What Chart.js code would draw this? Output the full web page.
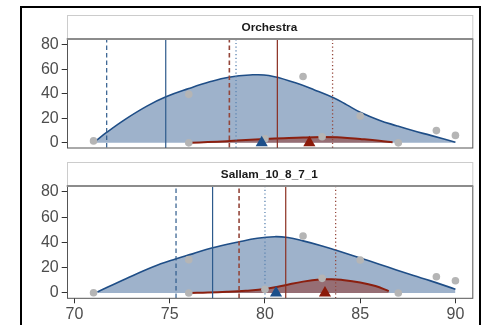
<!DOCTYPE html>
<html>
<head>
<meta charset="utf-8">
<script src="https://cdn.jsdelivr.net/npm/chart.js@4.4.0/dist/chart.umd.min.js"></script>
<style>
    html, body { margin: 0; padding: 0; background: #fff; }
    body { width: 482px; height: 325px; position: relative; overflow: hidden; }
    #frame { position: absolute; left: 20px; top: 6px; width: 457px; height: 400px; border: 2px solid #000; }
    canvas { position: absolute; left: 0; }
    #panelTop { top: 0; }
    #panelBottom { top: 155px; }
</style>
</head>
<body>
<div id="frame"></div>
<canvas id="panelTop" width="482" height="155"></canvas>
<canvas id="panelBottom" width="482" height="170"></canvas>
<script>
const panelNames = ["Orchestra", "Sallam_10_8_7_1"];
const xTicks = [70, 75, 80, 85, 90];
const yTicks = [0, 20, 40, 60, 80];

// observed counts (grey dots)
const obsX = [71, 76, 76, 80, 82, 83, 85, 87, 89, 90];
const orchObsY = [1.6, 39.6, 0, 3.4, 54.1, 5, 21.9, 0, 10, 6.1];
const sallObsY = [0.2, 26.4, 0, 2.9, 45.1, 11.6, 26.1, 0, 12.9, 9.7];

// blue density
const orchBlueX = [71.15, 71.7, 72.7, 73.8, 74.8, 76, 77.1, 78.1, 79.2, 80.2, 81.6, 82.6, 83.6, 84.3, 85, 86, 86.9, 87.8, 88.7, 90];
const orchBlueY = [2, 8.7, 19.6, 30, 37.6, 44.3, 49.8, 53.6, 55.4, 55, 49, 43.2, 36.8, 31, 25, 18.5, 14, 9.8, 6.1, 0.5];
const sallBlueX = [71.2, 72.7, 74.1, 75.3, 76.2, 77.2, 78.6, 79.6, 80.5, 81.2, 82, 83, 83.7, 85, 86, 86.9, 87.8, 88.7, 90];
const sallBlueY = [0.8, 11.3, 20.6, 26.9, 31, 35.6, 40.4, 43.4, 44.6, 43.9, 41.3, 37.3, 34, 27.7, 22.8, 18.2, 13.8, 9.6, 3];

// red density
const orchRedX = [76.15, 77, 78, 79, 80, 81, 82, 83, 84, 85, 86, 86.7];
const orchRedY = [0, 0.6, 1.4, 2.3, 3.1, 3.8, 4.4, 4.7, 4.4, 3.2, 1.8, 0.4];
const sallRedX = [76.1, 77, 78, 79, 80, 81, 82, 83, 83.5, 84, 85, 85.8, 86.5];
const sallRedY = [0, 0.3, 0.9, 1.8, 3.2, 6, 9, 10.8, 10.9, 10.4, 8.3, 5.5, 1.5];

// reference lines: dashed, solid, dotted
const orchBlueLines = [71.69, 74.79, 78.48];
const orchRedLines = [78.13, 80.65, 83.55];
const sallBlueLines = [75.33, 77.25, 80.0];
const sallRedLines = [78.64, 81.09, 83.71];

// triangles: blue, red
const orchMarks = [79.83, 82.33];
const sallMarks = [80.58, 83.15];

const FONT = "'Liberation Sans', Arial, sans-serif";
const BLUE = '#1f4e87';
const RED = '#8b1f0f';
const lineDashes = [[4.5, 3], [], [1.2, 2.5]];

function pts(xs, ys) {
    return xs.map((x, i) => ({ x: x, y: ys[i] }));
}

function vLine(x, color, width, dash) {
    return {
        data: [{ x: x, y: -10 }, { x: x, y: 100 }],
        borderColor: color,
        borderWidth: width,
        borderDash: dash,
        pointRadius: 0,
        fill: false,
        order: 2,
    };
}

const stripPlugin = {
    id: 'strip',
    afterDraw(chart, args, opts) {
        const ctx = chart.ctx;
        const ca = chart.chartArea;
        ctx.save();
        ctx.fillStyle = '#fff';
        ctx.fillRect(ca.left, ca.top - 24, ca.right - ca.left + 1, 24);
        ctx.strokeStyle = '#cccccc';
        ctx.lineWidth = 1;
        ctx.strokeRect(Math.round(ca.left) + 0.5, ca.top - 24 + 0.5, ca.right - ca.left, 24);
        ctx.fillStyle = '#1a1a1a';
        ctx.font = 'bold 11.8px ' + FONT;
        ctx.textAlign = 'center';
        ctx.textBaseline = 'middle';
        ctx.fillText(opts.label, (ca.left + ca.right) / 2, ca.top - 11);
        ctx.strokeStyle = '#555';
        ctx.lineWidth = 1;
        ctx.strokeRect(Math.round(ca.left) + 0.5, ca.top, ca.right - ca.left, ca.bottom - ca.top);
        ctx.strokeStyle = '#8c8c8c';
        ctx.lineWidth = 2;
        ctx.beginPath();
        ctx.moveTo(ca.left, ca.top);
        ctx.lineTo(ca.right + 1, ca.top);
        ctx.stroke();
        ctx.restore();
    }
};

function makePanel(id, label, obsY, blueX, blueY, redX, redY, blueLines, redLines, marks, showX, padTop, padBottom) {
    const datasets = [
        {
            data: pts(blueX, blueY),
            borderColor: BLUE, borderWidth: 1.6,
            backgroundColor: 'rgb(158,178,203)',
            fill: 'origin', pointRadius: 0,
            tension: 0.4,
            order: 4,
        },
        {
            data: pts(redX, redY),
            borderColor: RED, borderWidth: 2,
            backgroundColor: 'rgba(139,26,10,0.45)',
            fill: 'origin', pointRadius: 0,
            tension: 0.4,
            order: 3,
        },
        vLine(blueLines[0], '#2d5a8c', 1.2, lineDashes[0]),
        vLine(blueLines[1], '#2d5a8c', 1.2, lineDashes[1]),
        vLine(blueLines[2], '#5b84b1', 1.3, lineDashes[2]),
        vLine(redLines[0], '#94463a', 1.6, lineDashes[0]),
        vLine(redLines[1], '#8b2e21', 1.2, lineDashes[1]),
        vLine(redLines[2], '#94463a', 1.3, lineDashes[2]),
        {
            data: pts(obsX, obsY),
            showLine: false,
            pointRadius: 3.8, pointBorderWidth: 0,
            pointBackgroundColor: '#b5b5b5',
            order: 1,
        },
        {
            data: pts(marks, [0, 0]),
            showLine: false,
            pointStyle: 'triangle',
            pointRadius: 7, pointBorderWidth: 0,
            pointBackgroundColor: ['#1c4f8a', '#8b1a0a'],
            order: 0,
        },
    ];

    return new Chart(document.getElementById(id), {
        type: 'line',
        data: { datasets },
        plugins: [stripPlugin],
        options: {
            responsive: false,
            animation: false,
            layout: { padding: { left: 0, right: 10, top: padTop, bottom: padBottom } },
            plugins: {
                legend: { display: false },
                tooltip: { enabled: false },
                strip: { label: label },
            },
            scales: {
                x: {
                    type: 'linear',
                    min: 69.59, max: 90.87,
                    display: showX,
                    afterBuildTicks: s => { s.ticks = xTicks.map(v => ({ value: v })); },
                    afterFit: s => {
                        s.height = showX ? 26.7 : 0;
                        s.paddingLeft = 0; s.paddingRight = 0;
                    },
                    grid: { drawOnChartArea: false, tickLength: 5, color: '#333' },
                    border: { display: false },
                    ticks: { font: { family: FONT, size: 16 }, color: '#4d4d4d', padding: 2, maxRotation: 0, autoSkip: false },
                },
                y: {
                    min: -4.2, max: 84.75,
                    afterBuildTicks: s => { s.ticks = yTicks.map(v => ({ value: v })); },
                    afterFit: s => { s.width = 66.7; s.paddingTop = 0; s.paddingBottom = 0; },
                    grid: { drawOnChartArea: false, tickLength: 5, color: '#333' },
                    border: { display: false },
                    ticks: { font: { family: FONT, size: 16 }, color: '#4d4d4d', padding: 3, autoSkip: false },
                },
            },
        },
    });
}

makePanel('panelTop', panelNames[0], orchObsY, orchBlueX, orchBlueY, orchRedX, orchRedY,
    orchBlueLines, orchRedLines, orchMarks, false, 39, 3.7);
makePanel('panelBottom', panelNames[1], sallObsY, sallBlueX, sallBlueY, sallRedX, sallRedY,
    sallBlueLines, sallRedLines, sallMarks, true, 31, 0);
</script>
</body>
</html>
